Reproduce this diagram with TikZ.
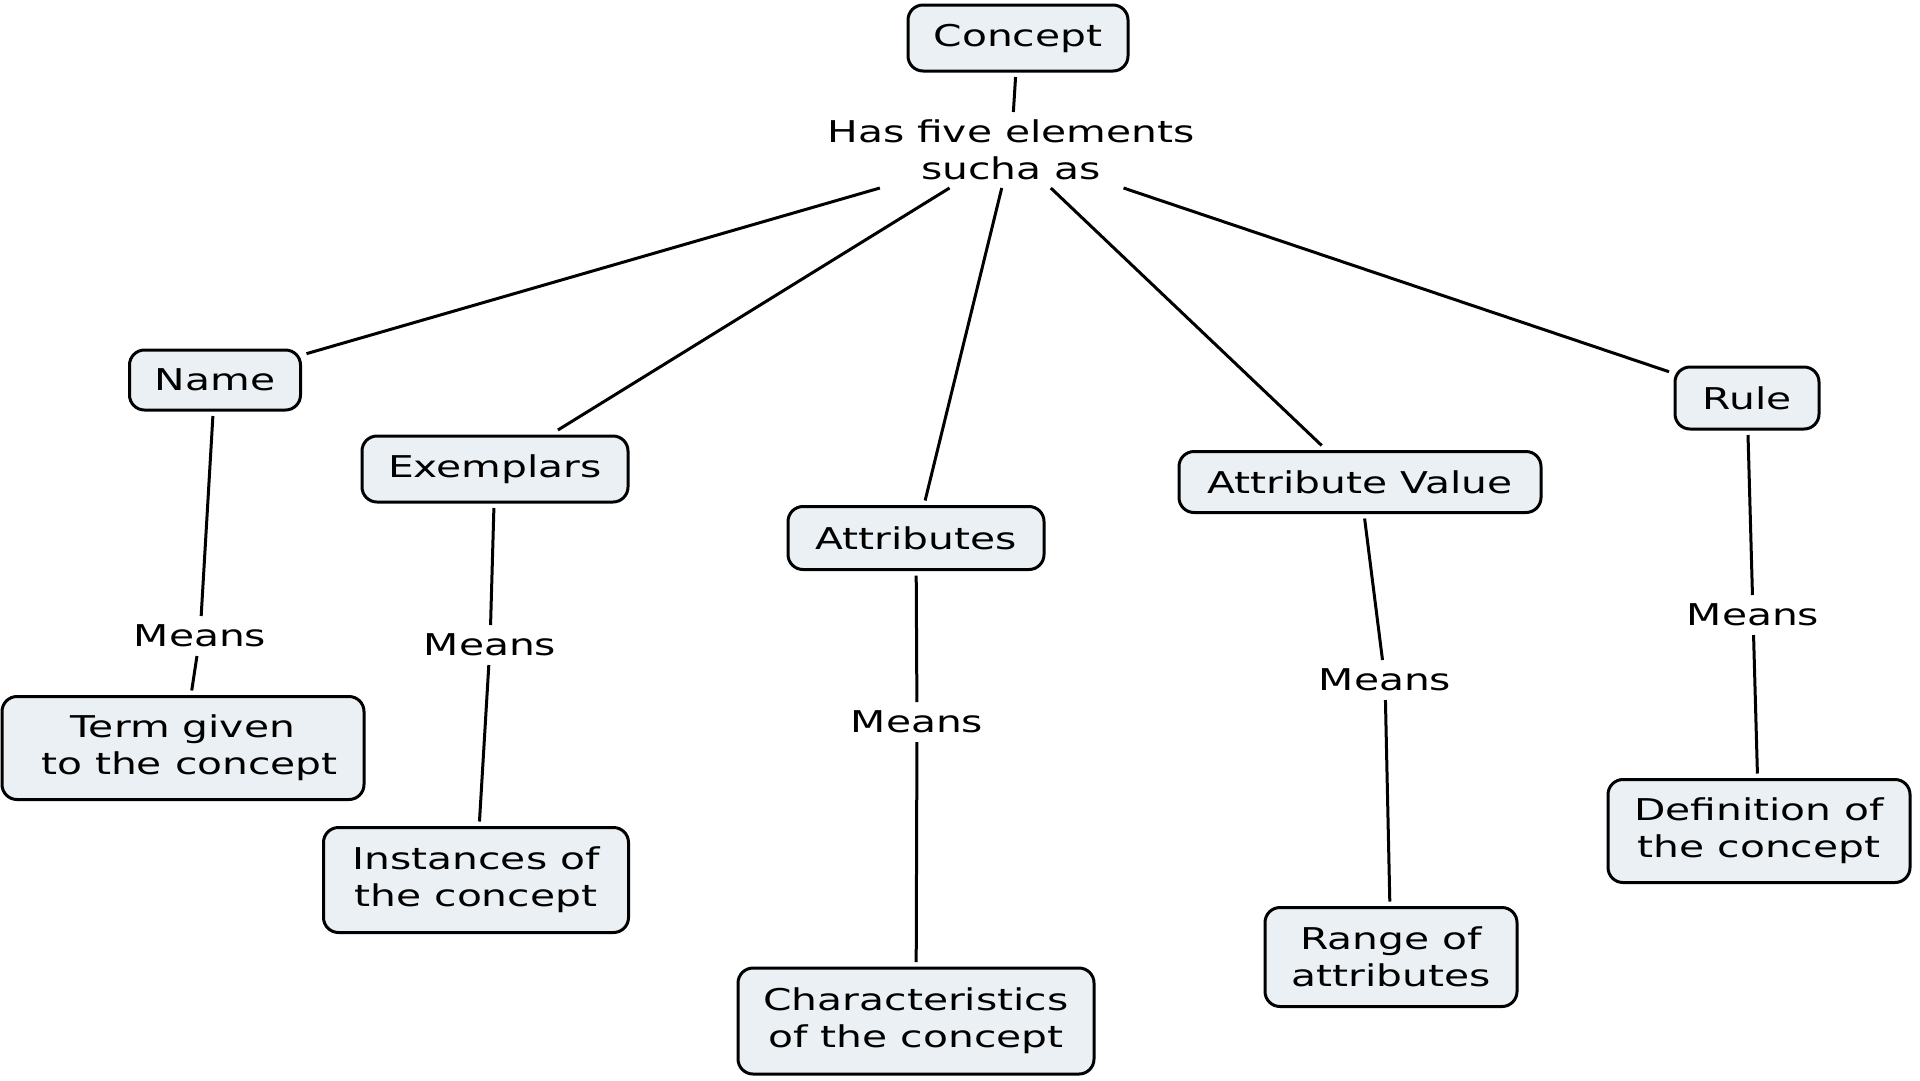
\documentclass[tikz,border=0pt]{standalone}
\usepackage{fontspec}
\setmainfont{DejaVu Sans}[FakeStretch=1.36]
\definecolor{boxfill}{HTML}{EAF0F3}
\begin{document}
\begin{tikzpicture}[x=1pt,y=-1pt,
  every node/.style={font=\fontsize{30}{37}\selectfont, align=center},
  concept/.style={draw=black, line width=3pt, fill=boxfill, rounded corners=15pt,
    inner sep=0pt, outer sep=6pt},
  linklabel/.style={inner sep=0pt, outer sep=0pt, minimum height=40pt},
  link/.style={line width=3pt, black}]
\useasboundingbox (0,0) rectangle (1920,1080);
\fill[white] (0,0) rectangle (1920,1080);

% top concept and its linking phrase
\node[concept, minimum width=220pt, minimum height=66pt] (concept) at (1018,38) {Concept};
\node[inner sep=0pt, outer sep=0pt, minimum width=370pt, minimum height=76pt] (has) at (1011,150)
  {Has five elements\\sucha as};

% the five elements
\node[concept, minimum width=171pt, minimum height=60pt] (name) at (215,380) {Name};
\node[concept, minimum width=266pt, minimum height=66pt] (exem) at (495,469) {Exemplars};
\node[concept, minimum width=256pt, minimum height=63pt] (attr) at (916,538) {Attributes};
\node[concept, minimum width=362pt, minimum height=61pt] (aval) at (1360,482) {Attribute Value};
\node[concept, minimum width=144pt, minimum height=62pt] (rule) at (1747,398) {Rule};

% meanings
\node[concept, minimum width=362pt, minimum height=103pt] (term) at (183,748) {Term given\\\ to the concept};
\node[concept, minimum width=305pt, minimum height=105pt] (inst) at (476,880) {Instances of\\the concept};
\node[concept, minimum width=356pt, minimum height=106pt] (char) at (916,1021) {Characteristics\\of the concept};
\node[concept, minimum width=252pt, minimum height=99pt] (range) at (1391,957) {Range of\\attributes};
\node[concept, minimum width=302pt, minimum height=103pt] (defn) at (1759,831) {Definition of\\the concept};

% linking phrases
\node[linklabel] (m1) at (200,636) {Means};
\node[linklabel] (m2) at (490,645) {Means};
\node[linklabel] (m3) at (917,722) {Means};
\node[linklabel] (m4) at (1385,680) {Means};
\node[linklabel] (m5) at (1753,615) {Means};

% connectors
\draw[link] (concept) -- (has);
\draw[link] (has) -- (name);
\draw[link] (has) -- (exem);
\draw[link] (has) -- (attr);
\draw[link] (has) -- (aval);
\draw[link] (has) -- (rule);

\draw[link] (name) -- (m1);  \draw[link] (m1) -- (term);
\draw[link] (exem) -- (m2);  \draw[link] (m2) -- (inst);
\draw[link] (attr) -- (m3);  \draw[link] (m3) -- (char);
\draw[link] (aval) -- (m4);  \draw[link] (m4) -- (range);
\draw[link] (rule) -- (m5);  \draw[link] (m5) -- (defn);
\end{tikzpicture}
\end{document}
